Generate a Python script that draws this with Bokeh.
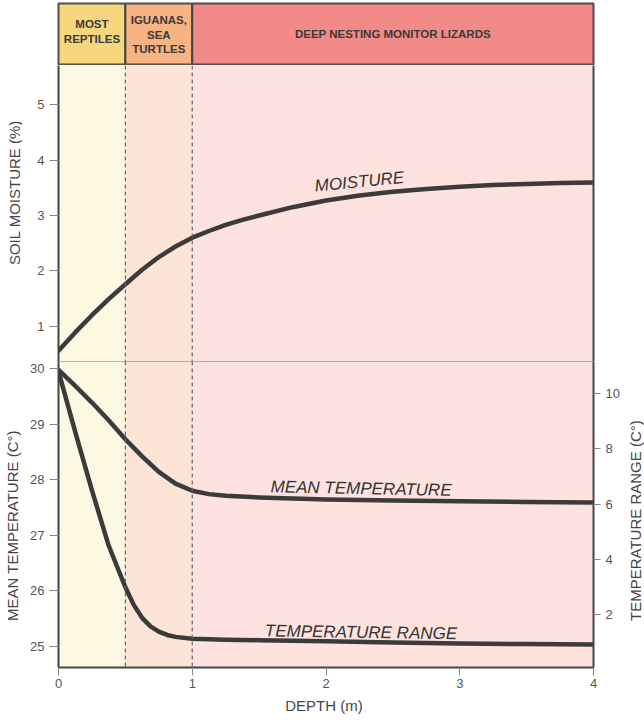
import math
from bokeh.plotting import figure
from bokeh.layouts import column, row
from bokeh.models import Range1d, LinearAxis, FixedTicker, Span
from bokeh.core.properties import value
from bokeh.embed import file_html
from bokeh.resources import INLINE

# ---------------- data ----------------
zone_edges = [0.0, 0.5, 1.0, 4.0]
zone_names = ["MOST\nREPTILES", "IGUANAS,\nSEA\nTURTLES", "DEEP NESTING MONITOR LIZARDS"]

moist_depth = [0, 0.125, 0.25, 0.375, 0.5, 0.625, 0.75, 0.875, 1.0, 1.125, 1.25, 1.375, 1.5,
               1.75, 2.0, 2.25, 2.5, 2.75, 3.0, 3.25, 3.5, 3.75, 4.0]
moisture = [0.56, 0.89, 1.20, 1.49, 1.76, 2.02, 2.25, 2.44, 2.60, 2.72, 2.83, 2.92, 3.00,
            3.15, 3.27, 3.36, 3.43, 3.48, 3.52, 3.55, 3.57, 3.585, 3.595]

mean_depth = [0, 0.125, 0.25, 0.375, 0.5, 0.625, 0.75, 0.875, 1.0, 1.125, 1.25, 1.5,
              1.75, 2.0, 2.5, 3.0, 3.5, 4.0]
mean_temp = [29.98, 29.69, 29.39, 29.07, 28.73, 28.42, 28.14, 27.93, 27.80, 27.74, 27.71, 27.68,
             27.66, 27.645, 27.625, 27.61, 27.60, 27.59]

range_depth = [0, 0.125, 0.25, 0.375, 0.4375, 0.5, 0.5625, 0.625, 0.6875, 0.75, 0.8125, 0.875,
               1.0, 1.25, 1.5, 2.0, 2.5, 3.0, 3.5, 4.0]
temp_range = [10.81, 8.62, 6.50, 4.50, 3.74, 2.99, 2.35, 1.88, 1.57, 1.38, 1.26, 1.19,
              1.12, 1.09, 1.07, 1.03, 0.99, 0.95, 0.93, 0.91]

moist_ticks = [1, 2, 3, 4, 5]
temp_ticks = [25, 26, 27, 28, 29, 30]
range_ticks = [2, 4, 6, 8, 10]
depth_ticks = [0, 1, 2, 3, 4]

side_titles_left = ["SOIL MOISTURE  (%)", "MEAN TEMPERATURE  (C°)"]
side_title_right = "TEMPERATURE RANGE  (C°)"

# ---------------- style ----------------
FONT = "Liberation Sans"
TOTAL_W, TOTAL_H = 644, 722
LW, RW = 22, 16                # narrow side strips holding the vertical titles
W = TOTAL_W - LW - RW          # main column width
LB, RB = 36, 35                # frame spans x = 58 .. 593 on the page
header_colors = ["#F6D77D", "#F8B382", "#F28A87"]
body_colors = ["#FDF8E2", "#FCE4D6", "#FDE2E0"]
LINE = "#3b3b3b"
EDGE = "#454545"

zone_left = zone_edges[:-1]
zone_right = zone_edges[1:]
zone_mid = [(a + b) / 2 for a, b in zip(zone_left, zone_right)]


def style_axis(ax, ticks, label_standoff=6, tick_out=9, major_standoff=5, label_size="15px"):
    ax.ticker = FixedTicker(ticks=ticks)
    ax.axis_line_color = EDGE
    ax.axis_line_width = 2
    ax.major_tick_line_color = "#888888"
    ax.major_tick_line_width = 1
    ax.major_tick_out = tick_out
    ax.major_tick_in = 0
    ax.minor_tick_out = 0
    ax.minor_tick_in = 0
    ax.major_label_text_font = FONT
    ax.major_label_text_font_size = "13px"
    ax.major_label_text_color = "#555555"
    ax.major_label_standoff = major_standoff
    ax.axis_label_text_font = FONT
    ax.axis_label_text_font_size = label_size
    ax.axis_label_text_font_style = "normal"
    ax.axis_label_text_color = "#454545"
    ax.axis_label_standoff = label_standoff


def base(height, y_range, top, bottom, xloc=None, yloc=None):
    p = figure(width=W, height=height, x_range=Range1d(0, 4), y_range=y_range,
               output_backend="svg", toolbar_location=None,
               x_axis_location=xloc, y_axis_location=yloc,
               min_border_left=LB, min_border_right=RB,
               min_border_top=top, min_border_bottom=bottom)
    p.grid.visible = False
    p.border_fill_color = "white"
    return p


def strip(width):
    # page-pixel coordinate strip (y grows downwards) for the vertical titles
    s = figure(width=width, height=TOTAL_H, x_range=Range1d(0, width),
               y_range=Range1d(TOTAL_H, 0), output_backend="svg", toolbar_location=None,
               x_axis_location=None, y_axis_location=None,
               min_border_left=0, min_border_right=0, min_border_top=0, min_border_bottom=0)
    s.grid.visible = False
    s.outline_line_color = None
    s.background_fill_color = "white"
    s.border_fill_color = "white"
    return s


# ---------------- header ----------------
h = base(65, Range1d(0, 1), 3, 1)
h.outline_line_color = EDGE
h.outline_line_width = 2
h.quad(left=zone_left, right=zone_right, bottom=0, top=1,
       fill_color=header_colors, line_color=EDGE, line_width=2)
header_y = [0.54, 0.49, 0.50]
h.text(x=zone_mid, y=header_y, text=zone_names, text_align="center",
       text_baseline="middle", text_font=value(FONT), text_font_style="bold",
       text_font_size="11.5px", text_color="#3a3a3a", text_line_height=1.2)

# ---------------- moisture panel ----------------
m_lo, m_hi = 0.365, 5.707
p1 = base(296, Range1d(m_lo, m_hi), 0, 0, yloc="left")
p1.outline_line_color = None
p1.quad(left=zone_left, right=zone_right, bottom=m_lo, top=m_hi,
        fill_color=body_colors, line_color=None)
for e in zone_edges[1:-1]:
    p1.add_layout(Span(location=e, dimension="height", line_dash="4 3",
                       line_color="#666666", line_width=1.2))
p1.line(moist_depth, moisture, line_color=LINE, line_width=4.5,
        line_join="round", line_cap="round")
p1.text(x=[2.25], y=[3.61], text=["MOISTURE"], angle=0.098, text_align="center",
        text_baseline="middle", text_font=value(FONT), text_font_style="italic",
        text_font_size="17px", text_color="#333333")
style_axis(p1.yaxis[0], moist_ticks)
rdummy = LinearAxis(ticker=FixedTicker(ticks=[]), major_tick_out=0, major_tick_in=0,
                    minor_tick_out=0, minor_tick_in=0, major_label_text_font_size="0px",
                    major_label_standoff=0, axis_line_color=EDGE, axis_line_width=2)
p1.add_layout(rdummy, "right")

# ---------------- temperature panel ----------------
t_lo, t_hi = 24.616, 30.13
p2 = base(361, Range1d(t_lo, t_hi), 0, 55, xloc="below", yloc="left")
p2.outline_line_color = "#9a9a9a"
p2.outline_line_width = 1
p2.extra_y_ranges = {"tr": Range1d(0.08, 11.17)}
p2.quad(left=zone_left, right=zone_right, bottom=t_lo, top=t_hi,
        fill_color=body_colors, line_color=None)
for e in zone_edges[1:-1]:
    p2.add_layout(Span(location=e, dimension="height", line_dash="4 3",
                       line_color="#666666", line_width=1.2))
p2.line(mean_depth, mean_temp, line_color=LINE, line_width=4.5,
        line_join="round", line_cap="round")
p2.line(range_depth, temp_range, y_range_name="tr", line_color=LINE, line_width=4.5,
        line_join="round", line_cap="round")
p2.text(x=[2.28], y=[27.84], text=["MEAN  TEMPERATURE"], angle=-0.02, text_align="center",
        text_baseline="middle", text_font=value(FONT), text_font_style="italic",
        text_font_size="17px", text_color="#333333")
p2.text(x=[2.28], y=[25.25], text=["TEMPERATURE  RANGE"], angle=-0.015, text_align="center",
        text_baseline="middle", text_font=value(FONT), text_font_style="italic",
        text_font_size="17px", text_color="#333333")
style_axis(p2.yaxis[0], temp_ticks)
style_axis(p2.xaxis[0], depth_ticks, 6, tick_out=8, major_standoff=3)
p2.xaxis[0].axis_label = "DEPTH  (m)"
rax = LinearAxis(y_range_name="tr")
style_axis(rax, range_ticks, tick_out=7, major_standoff=5)
p2.add_layout(rax, "right")

# ---------------- vertical titles ----------------
lf = strip(LW)
lf.text(x=[13.5, 12.0], y=[190, 523], text=side_titles_left, angle=math.pi / 2,
        text_align="center", text_baseline="middle", text_font=value(FONT),
        text_font_size="15px", text_color="#454545")
rf = strip(RW)
rf.text(x=[7.0], y=[518], text=[side_title_right], angle=math.pi / 2,
        text_align="center", text_baseline="middle", text_font=value(FONT),
        text_font_size="15px", text_color="#454545")

layout = row(lf, column(h, p1, p2, spacing=0), rf, spacing=0)
open("out.html", "w").write(file_html(layout, INLINE))
